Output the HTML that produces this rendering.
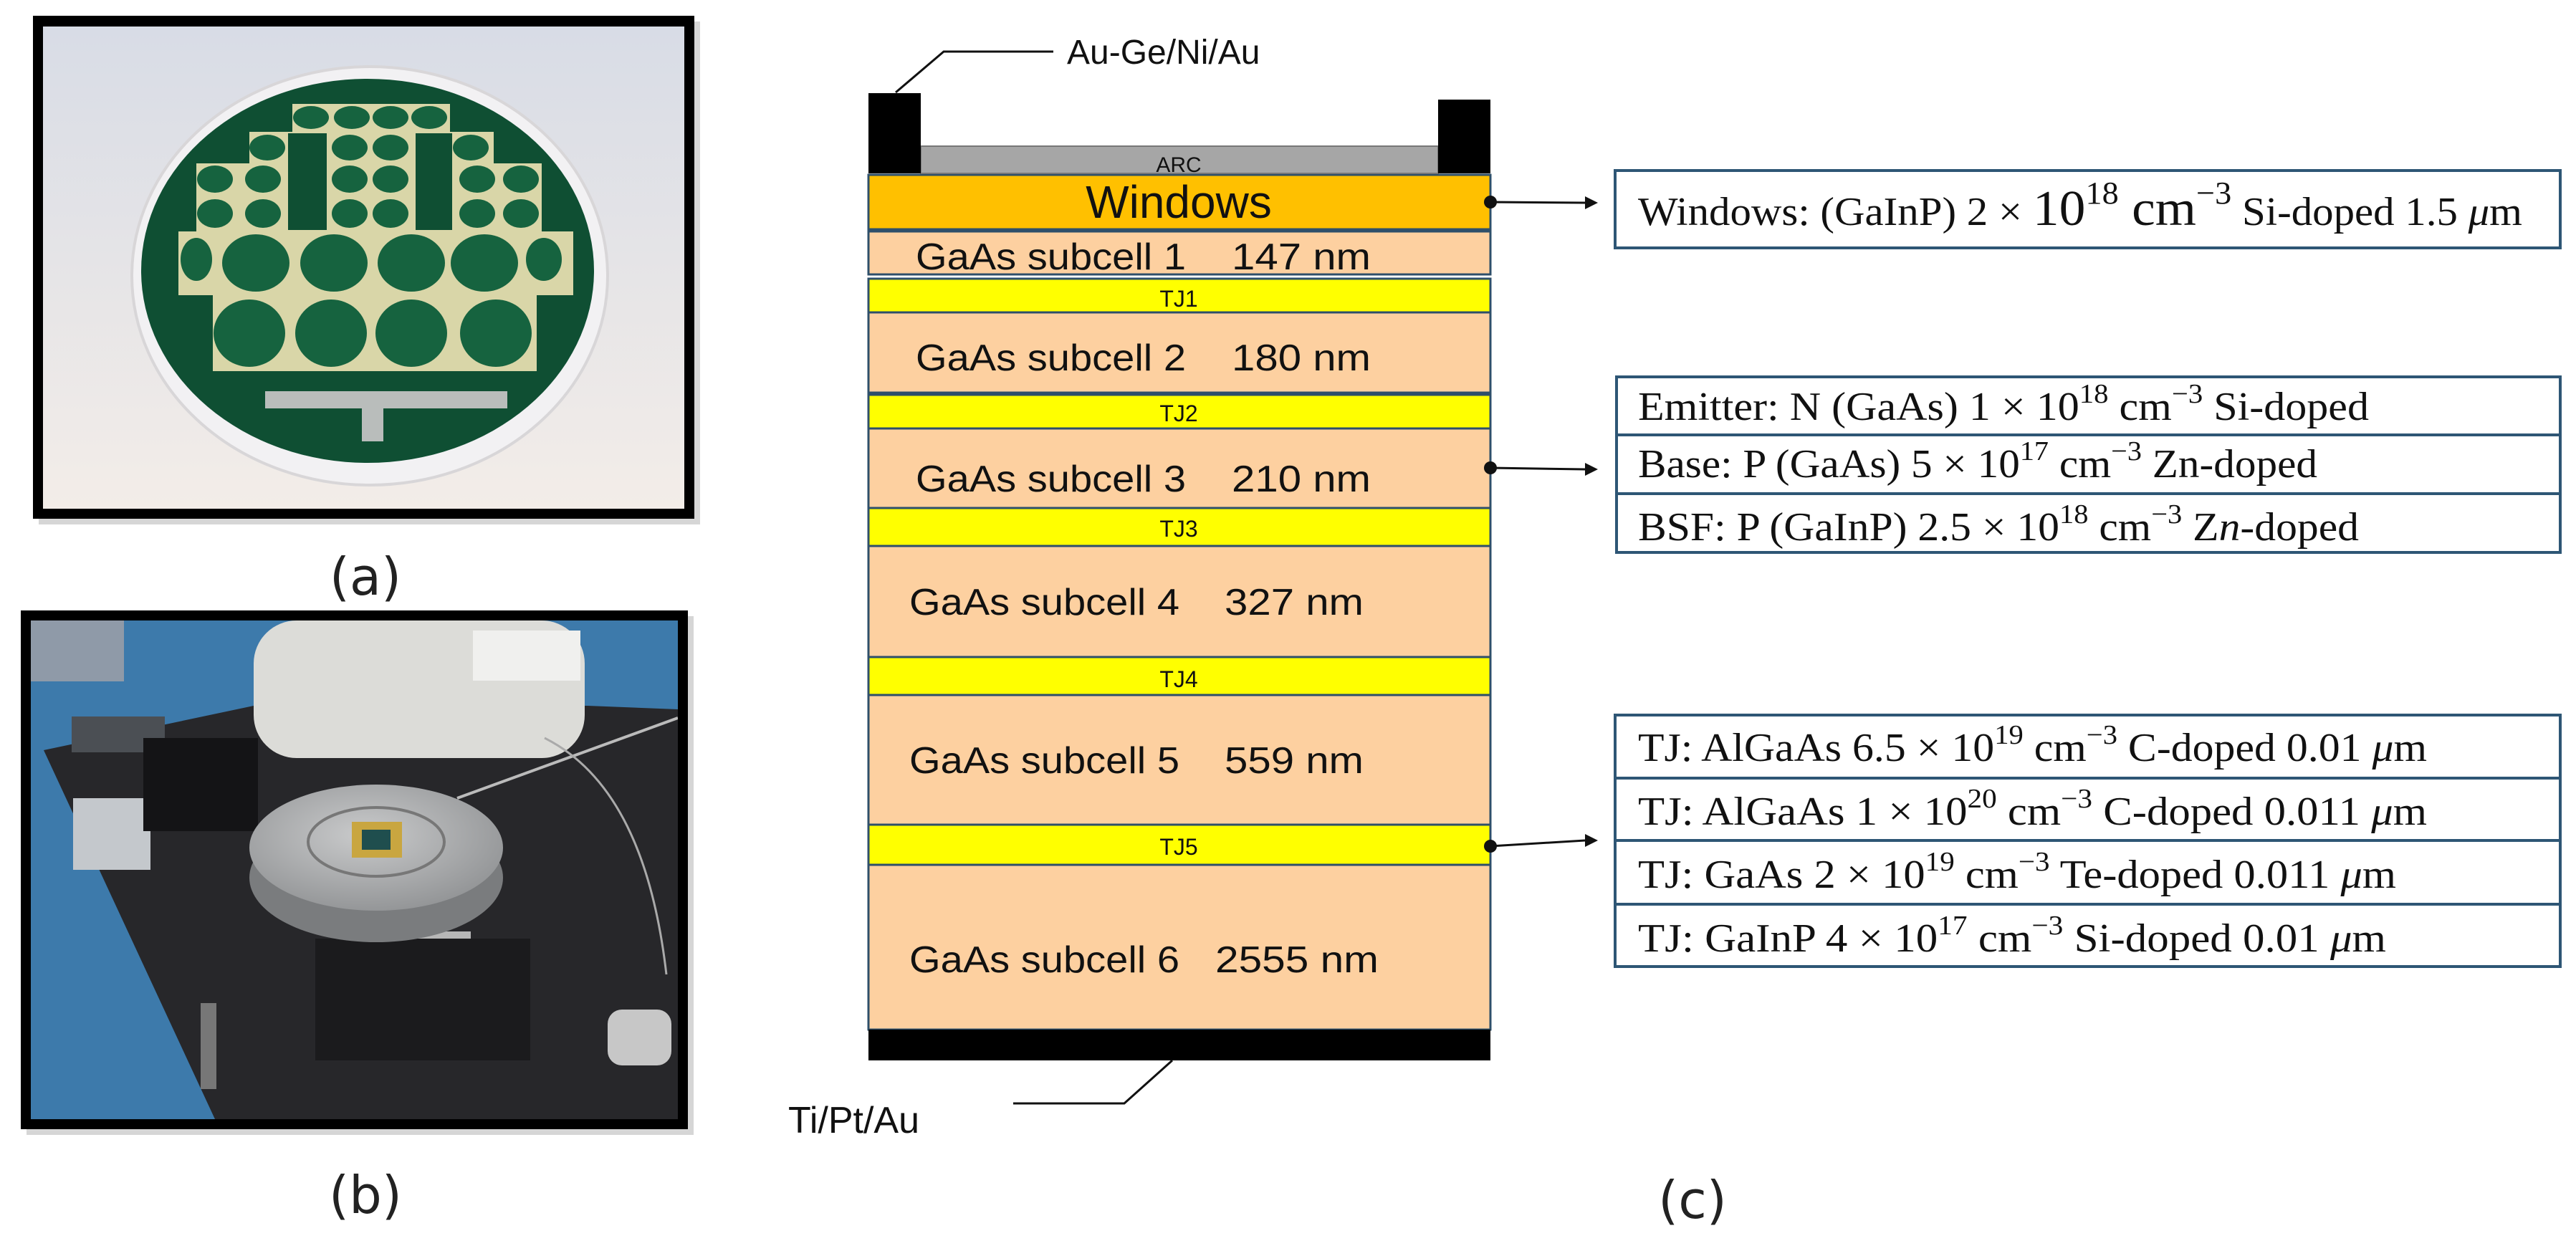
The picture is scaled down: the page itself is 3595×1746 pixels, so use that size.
<!DOCTYPE html>
<html><head><meta charset="utf-8"><style>
html,body{margin:0;padding:0;background:#fff;}
svg{display:block;}
.c{font-family:"Liberation Sans",sans-serif;}
.d{font-family:"DejaVu Sans","Liberation Sans",sans-serif;}
.t{font-family:"Liberation Serif",serif;}
</style></head><body>
<svg width="3595" height="1746" viewBox="0 0 3595 1746" xmlns="http://www.w3.org/2000/svg">
<defs>
<linearGradient id="bga" x1="0" y1="0" x2="0" y2="1"><stop offset="0" stop-color="#d8dce6"/><stop offset="1" stop-color="#f3ede8"/></linearGradient>
<radialGradient id="disc" cx="0.45" cy="0.4" r="0.7"><stop offset="0" stop-color="#c9cacb"/><stop offset="1" stop-color="#8c8e90"/></radialGradient>
<clipPath id="ca"><rect x="60" y="37" width="895" height="673"/></clipPath>
<clipPath id="cb"><rect x="43" y="866" width="903" height="696"/></clipPath>
</defs>
<!-- photo a -->
<rect x="54" y="30" width="923" height="702" fill="#999" opacity="0.4"/>
<rect x="46" y="22" width="923" height="702" fill="#000"/>
<g clip-path="url(#ca)">
<rect x="60" y="37" width="895" height="673" fill="url(#bga)"/>
<ellipse cx="516" cy="385" rx="332" ry="292" fill="#f2f1f3" stroke="#d8d6d8" stroke-width="4"/>
<ellipse cx="513" cy="378" rx="316" ry="268" fill="#0f4f33"/>
<g fill="#d9d6a8">
<rect x="408" y="145" width="220" height="39"/>
<rect x="348" y="184" width="341" height="44"/>
<rect x="274" y="228" width="482" height="95"/>
<rect x="249" y="323" width="551" height="89"/>
<rect x="297" y="412" width="452" height="106"/>
</g>
<g fill="#0f4f33">
<rect x="402" y="186" width="54" height="135"/><rect x="580" y="186" width="51" height="135"/>
<rect x="722" y="230" width="4" height="0"/>
</g>
<g fill="#16633f">
<ellipse cx="434" cy="164" rx="25" ry="16"/><ellipse cx="491" cy="164" rx="25" ry="16"/><ellipse cx="545" cy="164" rx="25" ry="16"/><ellipse cx="599" cy="164" rx="25" ry="16"/>
<ellipse cx="373" cy="206" rx="25" ry="18"/><ellipse cx="488" cy="206" rx="25" ry="18"/><ellipse cx="545" cy="206" rx="25" ry="18"/><ellipse cx="657" cy="206" rx="25" ry="18"/>
<ellipse cx="300" cy="250" rx="25" ry="19"/><ellipse cx="367" cy="250" rx="25" ry="19"/><ellipse cx="488" cy="250" rx="25" ry="19"/><ellipse cx="545" cy="250" rx="25" ry="19"/><ellipse cx="666" cy="250" rx="25" ry="19"/><ellipse cx="727" cy="250" rx="25" ry="19"/>
<ellipse cx="300" cy="298" rx="25" ry="20"/><ellipse cx="367" cy="298" rx="25" ry="20"/><ellipse cx="488" cy="298" rx="25" ry="20"/><ellipse cx="545" cy="298" rx="25" ry="20"/><ellipse cx="666" cy="298" rx="25" ry="20"/><ellipse cx="727" cy="298" rx="25" ry="20"/>
<ellipse cx="274" cy="362" rx="22" ry="30"/><ellipse cx="357" cy="367" rx="47" ry="40"/><ellipse cx="466" cy="367" rx="47" ry="40"/><ellipse cx="574" cy="367" rx="47" ry="40"/><ellipse cx="676" cy="367" rx="47" ry="40"/><ellipse cx="759" cy="362" rx="25" ry="30"/>
<ellipse cx="348" cy="465" rx="50" ry="47"/><ellipse cx="462" cy="465" rx="50" ry="47"/><ellipse cx="574" cy="465" rx="50" ry="47"/><ellipse cx="692" cy="465" rx="50" ry="47"/>
</g>
<g fill="#b9bdbb">
<rect x="370" y="546" width="338" height="24"/>
<rect x="505" y="546" width="30" height="70"/>
</g>
</g>
<text x="510" y="830" class="d" font-size="72" text-anchor="middle" fill="#222">(a)</text>
<!-- photo b -->
<rect x="37" y="860" width="931" height="724" fill="#999" opacity="0.4"/>
<rect x="29" y="852" width="931" height="724" fill="#000"/>
<g clip-path="url(#cb)">
<rect x="43" y="866" width="903" height="696" fill="#27272a"/>
<polygon points="43,866 946,866 946,990 820,985 354,985 61,1047 300,1562 43,1562" fill="#3d7aab"/>
<rect x="43" y="866" width="130" height="85" fill="#8f9aa8"/>
<rect x="100" y="1000" width="130" height="50" fill="#4b4f54"/>
<rect x="102" y="1114" width="108" height="100" fill="#c4c8cc"/>
<rect x="200" y="1030" width="160" height="130" fill="#141416"/>
<rect x="354" y="866" width="462" height="192" rx="60" fill="#dcdcd8"/>
<rect x="660" y="880" width="150" height="70" fill="#f0f0ee"/>
<line x1="638" y1="1114" x2="946" y2="1002" stroke="#bbb" stroke-width="4"/>
<path d="M760,1030 Q900,1100 930,1360" fill="none" stroke="#aaa" stroke-width="3"/>
<rect x="577" y="1300" width="80" height="137" fill="#b7b7b7"/>
<rect x="440" y="1310" width="300" height="170" fill="#1b1b1d"/>
<ellipse cx="525" cy="1225" rx="177" ry="90" fill="#7a7c7e"/>
<ellipse cx="525" cy="1183" rx="177" ry="88" fill="url(#disc)"/>
<ellipse cx="525" cy="1175" rx="95" ry="48" fill="none" stroke="#777" stroke-width="4"/>
<rect x="491" y="1147" width="70" height="50" fill="#c9a640"/>
<rect x="505" y="1158" width="40" height="28" fill="#1f4e4e"/>
<rect x="848" y="1409" width="89" height="78" rx="20" fill="#c7c7c7"/>
<rect x="280" y="1400" width="22" height="120" fill="#777"/>
</g>
<text x="510" y="1693" class="d" font-size="72" text-anchor="middle" fill="#222">(b)</text>
<!-- stack -->
<g stroke="#2e4f6a" stroke-width="3">
<rect x="1212" y="244" width="868" height="76" fill="#ffc000"/>
<rect x="1212" y="323" width="868" height="60" fill="#fdd0a0"/>
<rect x="1212" y="389" width="868" height="47" fill="#ffff00"/>
<rect x="1212" y="436" width="868" height="112" fill="#fdd0a0"/>
<rect x="1212" y="551" width="868" height="47" fill="#ffff00"/>
<rect x="1212" y="598" width="868" height="111" fill="#fdd0a0"/>
<rect x="1212" y="709" width="868" height="53" fill="#ffff00"/>
<rect x="1212" y="762" width="868" height="155" fill="#fdd0a0"/>
<rect x="1212" y="917" width="868" height="53" fill="#ffff00"/>
<rect x="1212" y="970" width="868" height="181" fill="#fdd0a0"/>
<rect x="1212" y="1151" width="868" height="56" fill="#ffff00"/>
<rect x="1212" y="1207" width="868" height="230" fill="#fdd0a0"/>
</g>
<rect x="1285" y="204" width="722" height="38" fill="#a6a6a6" stroke="#777" stroke-width="2"/>
<rect x="1212" y="130" width="73" height="112" fill="#000"/>
<rect x="2007" y="139" width="73" height="103" fill="#000"/>
<rect x="1212" y="1437" width="868" height="43" fill="#000"/>
<g class="c" fill="#111" text-anchor="middle">
<text x="1645" y="240" font-size="30">ARC</text>
<text x="1645" y="304" font-size="64">Windows</text>
<text x="1645" y="428" font-size="32">TJ1</text>
<text x="1645" y="588" font-size="32">TJ2</text>
<text x="1645" y="749" font-size="32">TJ3</text>
<text x="1645" y="959" font-size="32">TJ4</text>
<text x="1645" y="1193" font-size="32">TJ5</text>
</g>
<g class="c" fill="#111" font-size="52">
<text x="1278" y="376" textLength="377" lengthAdjust="spacingAndGlyphs">GaAs subcell 1</text><text x="1719" y="376" textLength="194" lengthAdjust="spacingAndGlyphs">147 nm</text>
<text x="1278" y="517" textLength="377" lengthAdjust="spacingAndGlyphs">GaAs subcell 2</text><text x="1719" y="517" textLength="194" lengthAdjust="spacingAndGlyphs">180 nm</text>
<text x="1278" y="686" textLength="377" lengthAdjust="spacingAndGlyphs">GaAs subcell 3</text><text x="1719" y="686" textLength="194" lengthAdjust="spacingAndGlyphs">210 nm</text>
<text x="1269" y="858" textLength="377" lengthAdjust="spacingAndGlyphs">GaAs subcell 4</text><text x="1709" y="858" textLength="194" lengthAdjust="spacingAndGlyphs">327 nm</text>
<text x="1269" y="1079" textLength="377" lengthAdjust="spacingAndGlyphs">GaAs subcell 5</text><text x="1709" y="1079" textLength="194" lengthAdjust="spacingAndGlyphs">559 nm</text>
<text x="1269" y="1357" textLength="377" lengthAdjust="spacingAndGlyphs">GaAs subcell 6</text><text x="1696" y="1357" textLength="228" lengthAdjust="spacingAndGlyphs">2555 nm</text>
</g>
<g fill="none" stroke="#111" stroke-width="3">
<polyline points="1250,129 1317,72 1470,72"/>
<polyline points="1414,1540 1569,1540 1636,1480"/>
</g>
<text x="1489" y="89" class="c" font-size="48" fill="#111">Au-Ge/Ni/Au</text>
<text x="1100" y="1581" class="c" font-size="52" fill="#111">Ti/Pt/Au</text>
<text x="2362" y="1700" class="d" font-size="72" text-anchor="middle" fill="#222">(c)</text>
<!-- arrows -->
<g stroke="#111" stroke-width="3" fill="#111">
<circle cx="2080" cy="282" r="9" stroke="none"/><line x1="2080" y1="282" x2="2212" y2="283"/><polygon points="2212,274 2230,283 2212,292" stroke="none"/>
<circle cx="2080" cy="653" r="9" stroke="none"/><line x1="2080" y1="653" x2="2212" y2="655"/><polygon points="2212,646 2230,655 2212,664" stroke="none"/>
<circle cx="2080" cy="1181" r="9" stroke="none"/><line x1="2080" y1="1181" x2="2212" y2="1173"/><polygon points="2212,1164 2230,1173 2212,1182" stroke="none"/>
</g>
<!-- boxes -->
<g fill="#fff" stroke="#2e5675" stroke-width="4">
<rect x="2254" y="238" width="1319" height="108"/>
<rect x="2256" y="526" width="1317" height="81"/>
<rect x="2256" y="607" width="1317" height="82"/>
<rect x="2256" y="689" width="1317" height="82"/>
<rect x="2254" y="998" width="1319" height="88"/>
<rect x="2254" y="1086" width="1319" height="87"/>
<rect x="2254" y="1173" width="1319" height="89"/>
<rect x="2254" y="1262" width="1319" height="87"/>
</g>
<g class="t" fill="#111" font-size="56">
<text x="2286" y="314" textLength="1234" lengthAdjust="spacingAndGlyphs">Windows: (GaInP) 2 × <tspan font-size="70">10</tspan><tspan font-size="44" dy="-30">18</tspan><tspan font-size="70" dy="30"> cm</tspan><tspan font-size="44" dy="-30">−3</tspan><tspan dy="30"> Si-doped 1.5 <tspan font-style="italic">μ</tspan>m</tspan></text>
<text x="2286" y="586" textLength="1020" lengthAdjust="spacingAndGlyphs">Emitter: N (GaAs) 1 × 10<tspan font-size="38" dy="-24">18</tspan><tspan dy="24"> cm</tspan><tspan font-size="38" dy="-24">−3</tspan><tspan dy="24">  Si-doped</tspan></text>
<text x="2286" y="666" textLength="948" lengthAdjust="spacingAndGlyphs">Base: P (GaAs) 5 × 10<tspan font-size="38" dy="-24">17</tspan><tspan dy="24"> cm</tspan><tspan font-size="38" dy="-24">−3</tspan><tspan dy="24"> Zn-doped</tspan></text>
<text x="2286" y="754" textLength="1006" lengthAdjust="spacingAndGlyphs">BSF: P (GaInP) 2.5 × 10<tspan font-size="38" dy="-24">18</tspan><tspan dy="24"> cm</tspan><tspan font-size="38" dy="-24">−3</tspan><tspan dy="24"> Z<tspan font-style="italic">n</tspan>-doped</tspan></text>
<text x="2286" y="1062" textLength="1101" lengthAdjust="spacingAndGlyphs">TJ: AlGaAs 6.5 × 10<tspan font-size="38" dy="-24">19</tspan><tspan dy="24"> cm</tspan><tspan font-size="38" dy="-24">−3</tspan><tspan dy="24"> C-doped 0.01 <tspan font-style="italic">μ</tspan>m</tspan></text>
<text x="2286" y="1151" textLength="1101" lengthAdjust="spacingAndGlyphs">TJ: AlGaAs 1 × 10<tspan font-size="38" dy="-24">20</tspan><tspan dy="24"> cm</tspan><tspan font-size="38" dy="-24">−3</tspan><tspan dy="24">  C-doped 0.011 <tspan font-style="italic">μ</tspan>m</tspan></text>
<text x="2286" y="1239" textLength="1058" lengthAdjust="spacingAndGlyphs">TJ: GaAs 2 × 10<tspan font-size="38" dy="-24">19</tspan><tspan dy="24"> cm</tspan><tspan font-size="38" dy="-24">−3</tspan><tspan dy="24">  Te-doped 0.011 <tspan font-style="italic">μ</tspan>m</tspan></text>
<text x="2286" y="1328" textLength="1044" lengthAdjust="spacingAndGlyphs">TJ: GaInP 4 × 10<tspan font-size="38" dy="-24">17</tspan><tspan dy="24"> cm</tspan><tspan font-size="38" dy="-24">−3</tspan><tspan dy="24">  Si-doped 0.01 <tspan font-style="italic">μ</tspan>m</tspan></text>
</g>
</svg>
</body></html>
